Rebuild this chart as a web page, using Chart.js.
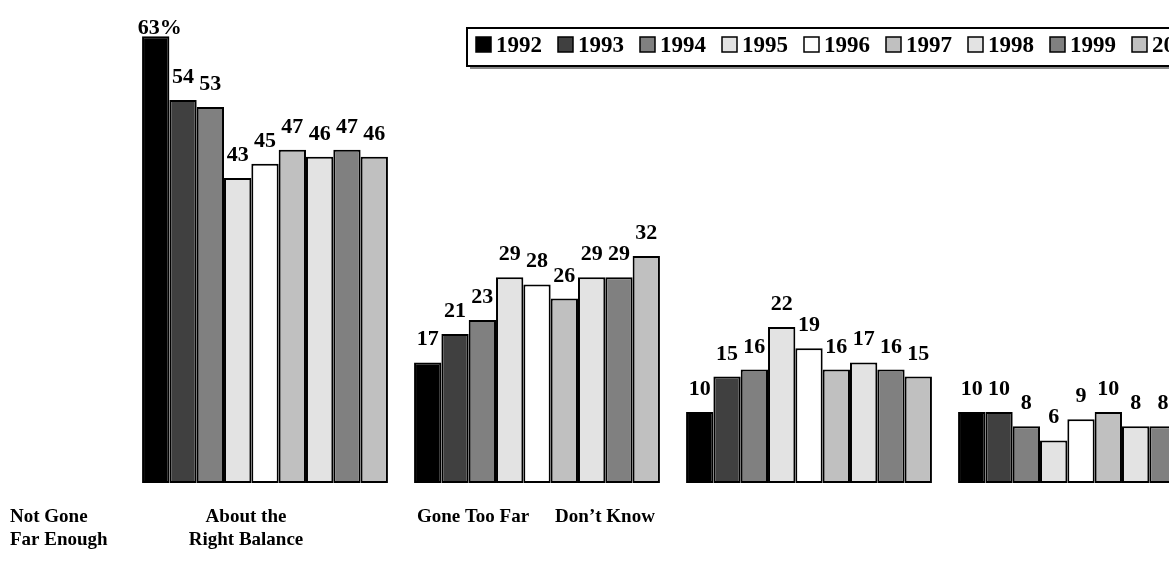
<!DOCTYPE html>
<html lang="en">
<head>
<meta charset="UTF-8">
<title>Views by year, 1992-2000</title>
<script src="https://cdn.jsdelivr.net/npm/chart.js"></script>
<style>
  html, body { margin: 0; padding: 0; background: #fff; overflow: hidden; }
  .wrap { position: relative; width: 1169px; height: 588px; overflow: hidden; }
  .wrap canvas { position: absolute; left: 0; top: 0; }
</style>
</head>
<body>
<div class="wrap"><canvas id="chart" width="1240" height="588"></canvas></div>
<script>
// answer groups, in plotting order
const categories = ['Not Gone Far Enough', 'About the Right Balance', 'Gone Too Far', 'Don\u2019t Know'];
const categoryLines = [['Not Gone', 'Far Enough'], ['About the', 'Right Balance'], ['Gone Too Far'], ['Don\u2019t Know']];

// survey years and their bar fills
const years = ['1992', '1993', '1994', '1995', '1996', '1997', '1998', '1999', '2000'];
const fills = ['#000000', '#404040', '#808080', '#e3e3e3', '#ffffff', '#c0c0c0', '#e3e3e3', '#808080', '#c0c0c0'];

// percentages per year, one value per group
const v1992 = [63, 17, 10, 10];
const v1993 = [54, 21, 15, 10];
const v1994 = [53, 23, 16, 8];
const v1995 = [43, 29, 22, 6];
const v1996 = [45, 28, 19, 9];
const v1997 = [47, 26, 16, 10];
const v1998 = [46, 29, 17, 8];
const v1999 = [47, 29, 16, 8];
const v2000 = [46, 32, 15, 8];
const series = [v1992, v1993, v1994, v1995, v1996, v1997, v1998, v1999, v2000];

const FONT = '"Liberation Serif", "Times New Roman", serif';

// numbers above every bar, first one gets a percent sign
const valueLabels = {
    id: 'valueLabels',
    afterDatasetsDraw(chart) {
        const ctx = chart.ctx;
        ctx.save();
        ctx.font = 'bold 22px ' + FONT;
        ctx.fillStyle = '#000';
        ctx.textAlign = 'center';
        ctx.textBaseline = 'alphabetic';
        chart.data.datasets.forEach((ds, di) => {
            chart.getDatasetMeta(di).data.forEach((bar, i) => {
                let txt = String(ds.data[i]);
                if (di === 0 && i === 0) txt += '%';
                // keep the tallest label from running off the top edge
                const y = Math.max(bar.y - 17, 34);
                ctx.fillText(txt, bar.x + (txt.length > 2 ? 4 : 0), y);
            });
        });
        ctx.restore();
    }
};

// boxed legend across the top right
const boxLegend = {
    id: 'boxLegend',
    afterDraw(chart) {
        const ctx = chart.ctx;
        const left = 467, top = 28, w = 900, h = 38;
        ctx.save();
        ctx.fillStyle = '#888';
        ctx.fillRect(left + 3, top + 3, w, h);
        ctx.fillStyle = '#fff';
        ctx.fillRect(left, top, w, h);
        ctx.lineWidth = 2;
        ctx.strokeStyle = '#000';
        ctx.strokeRect(left, top, w, h);

        ctx.font = 'bold 23px ' + FONT;
        ctx.textBaseline = 'alphabetic';
        ctx.textAlign = 'left';
        chart.data.datasets.forEach((ds, i) => {
            const x = 476 + i * 82;
            ctx.fillStyle = ds.backgroundColor;
            ctx.fillRect(x, 37, 15, 15);
            ctx.lineWidth = 1.5;
            ctx.strokeStyle = '#000';
            ctx.strokeRect(x, 37, 15, 15);
            ctx.fillStyle = '#000';
            ctx.fillText(ds.label, x + 20, 52);
        });
        ctx.restore();
    }
};

// group names under the plot
const groupNames = {
    id: 'groupNames',
    afterDraw(chart) {
        const ctx = chart.ctx;
        const spots = [
            { x: 10, align: 'left' },
            { x: 246, align: 'center' },
            { x: 473, align: 'center' },
            { x: 605, align: 'center' }
        ];
        ctx.save();
        ctx.font = 'bold 19px ' + FONT;
        ctx.fillStyle = '#000';
        ctx.textBaseline = 'middle';
        categoryLines.forEach((lines, i) => {
            ctx.textAlign = spots[i].align;
            lines.forEach((line, j) => {
                ctx.fillText(line, spots[i].x, 517 + j * 23);
            });
        });
        ctx.restore();
    }
};

new Chart(document.getElementById('chart'), {
    type: 'bar',
    data: {
        labels: categories,
        datasets: years.map((y, i) => ({
            label: y,
            data: series[i],
            backgroundColor: fills[i],
            borderColor: '#000',
            borderWidth: 2,
            borderSkipped: false,
            categoryPercentage: 0.904,
            barPercentage: 1.0
        }))
    },
    options: {
        responsive: false,
        animation: false,
        devicePixelRatio: 1,
        layout: { padding: { left: 129, right: 23, top: 22, bottom: 105 } },
        scales: {
            x: { display: false },
            y: { display: false, min: 0, max: 65 }
        },
        plugins: {
            legend: { display: false },
            tooltip: { enabled: false }
        }
    },
    plugins: [valueLabels, boxLegend, groupNames]
});
</script>
</body>
</html>
